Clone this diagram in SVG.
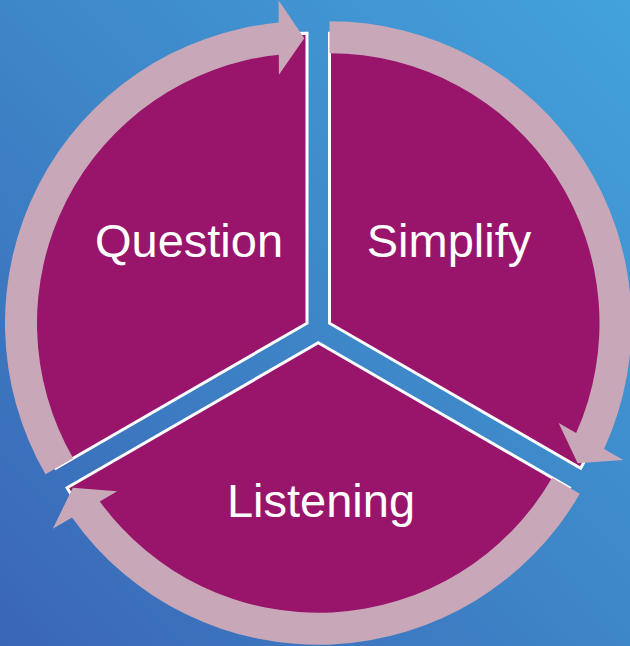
<svg xmlns="http://www.w3.org/2000/svg" width="630" height="646" viewBox="0 0 630 646">
<defs>
<linearGradient id="bg" x1="0" y1="1" x2="1" y2="0">
<stop offset="0" stop-color="#3A66B6"/>
<stop offset="0.5" stop-color="#3E86C8"/>
<stop offset="1" stop-color="#43A2DB"/>
</linearGradient>
<style>
.seg{fill:#99156B;stroke:#FFFFFF;stroke-width:3;stroke-linejoin:miter}
.arr{fill:#C8A8B8;stroke:none}
.lbl{font-family:"Liberation Sans",Arial,sans-serif;font-size:47px;fill:#FFFFFF;text-anchor:middle}
</style>
</defs>
<rect x="0" y="0" width="630" height="646" fill="url(#bg)"/>
<g id="question">
<path class="seg" d="M307,323.25 L307,33.25 A290,290 0 0 0 55.85,468.25 Z"/>
<text class="lbl" x="189" y="257">Question</text>
</g>
<g id="simplify">
<path class="seg" d="M329.5,323.25 L329.5,33.25 A290,290 0 0 1 580.65,468.25 Z"/>
<text class="lbl" x="449" y="257">Simplify</text>
</g>
<g id="listening">
<path class="seg" d="M318.25,342.75 L569.4,487.75 A290,290 0 0 1 67.1,487.75 Z"/>
<text class="lbl" x="321" y="517">Listening</text>
</g>
<g id="connectors">
<path class="arr" d="M45.46,474.25 A302,302 0 0 1 278.68,22.58 L278.59,0.37 L304.26,38.26 L278.92,74.87 L278.83,54.72 A270,270 0 0 0 73.17,458.25 Z"/>
<path class="arr" d="M329.5,21.25 A302,302 0 0 1 604.05,449.06 L623.33,460.09 L577.68,463.37 L558.65,423.12 L576.14,433.11 A270,270 0 0 0 329.5,53.25 Z"/>
<path class="arr" d="M579.79,493.75 A302,302 0 0 1 72.01,517.61 L52.83,528.79 L72.82,487.63 L117.19,491.26 L99.79,501.42 A270,270 0 0 0 552.08,477.75 Z"/>
</g>
</svg>
